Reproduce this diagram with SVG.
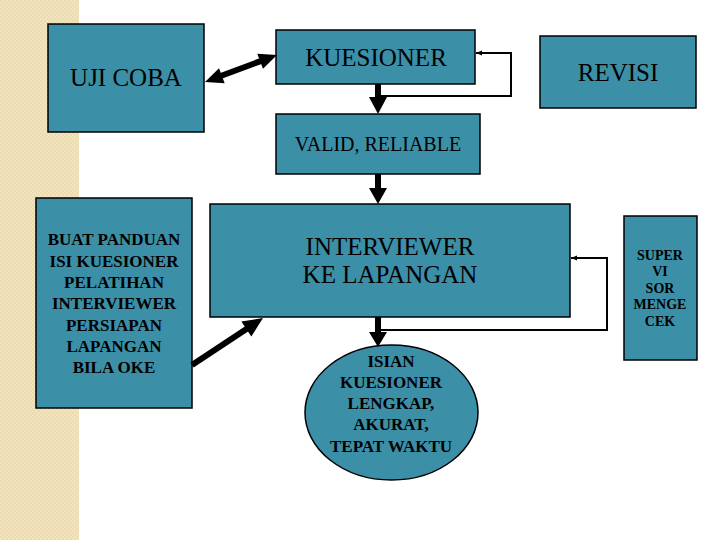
<svg xmlns="http://www.w3.org/2000/svg" width="720" height="540" viewBox="0 0 720 540">
<defs>
<pattern id="bg" width="4" height="4" patternUnits="userSpaceOnUse">
<rect width="4" height="4" fill="#f3e4c0"/>
<rect width="2" height="2" fill="#ecdbb0"/>
<rect x="2" y="2" width="2" height="2" fill="#ecdbb0"/>
</pattern>
<marker id="small" viewBox="0 0 10 10" refX="10" refY="5" markerWidth="6" markerHeight="6" orient="auto" markerUnits="userSpaceOnUse">
<path d="M0,1 L10,5 L0,9 Z" fill="#000"/>
</marker>
</defs>
<style>
.box{fill:#3b8fa7;stroke:#000;stroke-width:1.5}
.t{font-family:"Liberation Serif","Times New Roman",serif;fill:#000;text-anchor:middle}
.lg{font-size:25px}
.md{font-size:20px}
.sb{font-size:17px;font-weight:bold}
.xs{font-size:14px;font-weight:bold}
.thin{fill:none;stroke:#000;stroke-width:2}
.shaft{stroke:#000;stroke-width:6;fill:none}
.head{fill:#000}
</style>
<rect width="720" height="540" fill="#fff"/>
<rect x="0" y="0" width="79" height="540" fill="url(#bg)"/>

<g id="uji-coba">
<rect class="box" x="48" y="24" width="156" height="108"/>
<text class="t lg" x="126" y="86">UJI COBA</text>
</g>
<g id="kuesioner">
<rect class="box" x="276" y="30" width="199" height="54"/>
<text class="t lg" x="376" y="66">KUESIONER</text>
</g>
<g id="revisi">
<rect class="box" x="540" y="36" width="156" height="72"/>
<text class="t lg" x="618" y="81">REVISI</text>
</g>
<g id="valid">
<rect class="box" x="276" y="114" width="204" height="60"/>
<text class="t md" x="378" y="151">VALID, RELIABLE</text>
</g>
<g id="panduan">
<rect class="box" x="36" y="198" width="156" height="210"/>
<text class="t sb" x="114" y="245">BUAT PANDUAN</text>
<text class="t sb" x="114" y="267">ISI KUESIONER</text>
<text class="t sb" x="114" y="288">PELATIHAN</text>
<text class="t sb" x="114" y="309">INTERVIEWER</text>
<text class="t sb" x="114" y="331">PERSIAPAN</text>
<text class="t sb" x="114" y="352">LAPANGAN</text>
<text class="t sb" x="114" y="373">BILA OKE</text>
</g>
<g id="interviewer">
<rect class="box" x="210" y="204" width="360" height="113"/>
<text class="t lg" x="390" y="255">INTERVIEWER</text>
<text class="t lg" x="390" y="283">KE LAPANGAN</text>
</g>
<g id="supervisor">
<rect class="box" x="624" y="216" width="73" height="144"/>
<text class="t xs" x="660" y="260">SUPER</text>
<text class="t xs" x="660" y="276">VI</text>
<text class="t xs" x="660" y="293">SOR</text>
<text class="t xs" x="660" y="309">MENGE</text>
<text class="t xs" x="660" y="326">CEK</text>
</g>
<g id="isian">
<ellipse class="box" cx="391.5" cy="412.5" rx="86.5" ry="67.5"/>
<text class="t sb" x="391" y="367">ISIAN</text>
<text class="t sb" x="391" y="388">KUESIONER</text>
<text class="t sb" x="391" y="409">LENGKAP,</text>
<text class="t sb" x="391" y="430">AKURAT,</text>
<text class="t sb" x="391" y="452">TEPAT WAKTU</text>
</g>

<g id="connectors">
<line class="shaft" x1="220" y1="76.2" x2="262" y2="60.6" stroke-width="5"/>
<path class="head" d="M205,82 L224.7,83.2 L219,68.2 Z"/>
<path class="head" d="M277,55 L263,68.8 L257.3,53.8 Z"/>
<line class="shaft" x1="378" y1="84" x2="378" y2="98"/>
<path class="head" d="M369,97 L387,97 L378,114 Z"/>
<line class="shaft" x1="378" y1="174" x2="378" y2="189"/>
<path class="head" d="M369,188 L387,188 L378,204 Z"/>
<line class="shaft" x1="378" y1="317" x2="378" y2="333"/>
<path class="head" d="M369,332 L387,332 L378,347 Z"/>
<path class="thin" d="M380,96 H511 V53 H476" marker-end="url(#small)"/>
<path class="thin" d="M380,330 H607 V258 H571" marker-end="url(#small)"/>
<line class="shaft" x1="192" y1="365" x2="248" y2="328"/>
<path class="head" d="M263,318 L251.3,336.6 L241.4,321.5 Z"/>
</g>
</svg>
